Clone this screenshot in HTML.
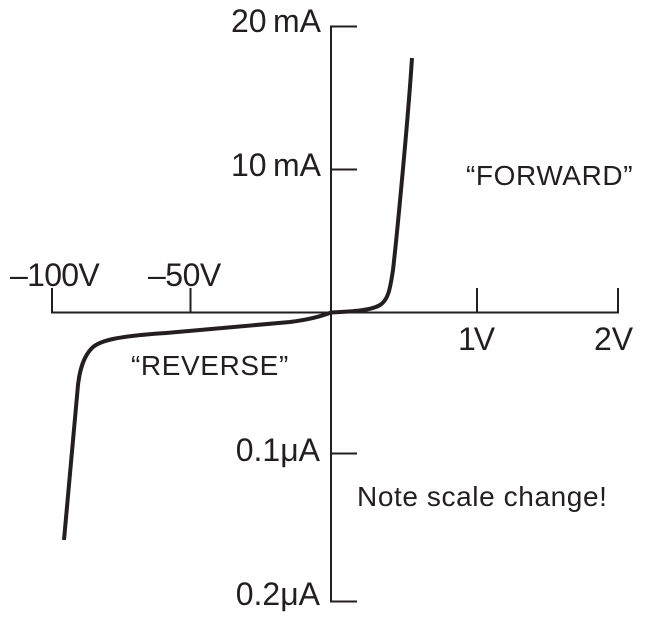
<!DOCTYPE html>
<html>
<head>
<meta charset="utf-8">
<style>
  html, body { margin: 0; padding: 0; background: #ffffff; }
  svg { display: block; }
  .ax { font-family: "Liberation Sans", Arial, sans-serif; font-size: 32px; fill: #231f20; }
  .an { font-family: "Liberation Sans", Arial, sans-serif; font-size: 28px; fill: #231f20; letter-spacing: 0.6px; }
</style>
</head>
<body>
<svg width="645" height="620" viewBox="0 0 645 620" xmlns="http://www.w3.org/2000/svg">
  <g stroke="#231f20" stroke-width="2" fill="none" stroke-linecap="butt">
    <line x1="331" y1="25.5" x2="331" y2="602.5"/>
    <line x1="330" y1="26.5" x2="357" y2="26.5"/>
    <line x1="331" y1="169.5" x2="357" y2="169.5"/>
    <line x1="331" y1="453.5" x2="357" y2="453.5"/>
    <line x1="330" y1="601.5" x2="357" y2="601.5"/>
    <line x1="51" y1="312.5" x2="619" y2="312.5"/>
    <line x1="52" y1="288" x2="52" y2="313.5"/>
    <line x1="190.5" y1="288" x2="190.5" y2="313"/>
    <line x1="477" y1="288" x2="477" y2="313"/>
    <line x1="618" y1="288" x2="618" y2="313.5"/>
  </g>
  <g stroke="#231f20" stroke-width="4" fill="none" stroke-linejoin="round">
    <path d="M331,312.5 C355,311.5 372,310 380,305 C388,300 390,290 393,270 C397,235 408,120 412,58"/>
    <path d="M331,312.5 C322,316 310,319.5 290,322 L166,333 C120,336 100,340 92,348 C84,356 80,368 78,385 L64,540"/>
  </g>
  <text class="ax" x="321" y="32" text-anchor="end">20&#8201;mA</text>
  <text class="ax" x="321" y="176" text-anchor="end">10&#8201;mA</text>
  <text class="ax" x="10" y="286" letter-spacing="-0.7">–100V</text>
  <text class="ax" x="148" y="286" letter-spacing="-0.5">–50V</text>
  <text class="ax" x="458" y="350" letter-spacing="-2">1V</text>
  <text class="ax" x="594" y="350">2V</text>
  <text class="ax" x="320" y="461" text-anchor="end">0.1μA</text>
  <text class="ax" x="320" y="605" text-anchor="end">0.2μA</text>
  <text class="an" x="466" y="185">“FORWARD”</text>
  <text class="an" x="131" y="375">“REVERSE”</text>
  <text class="an" x="357" y="506">Note scale change!</text>
</svg>
</body>
</html>
